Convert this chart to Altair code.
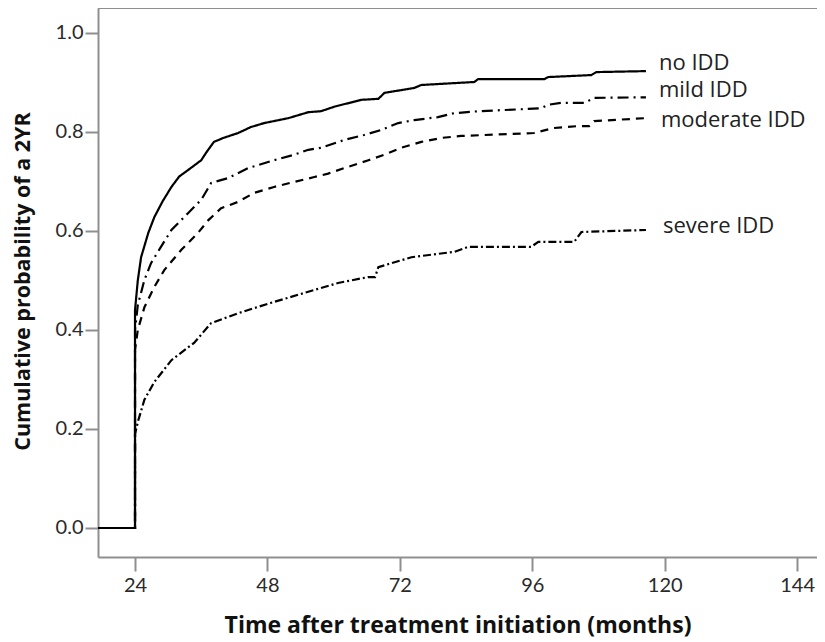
import altair as alt
import pandas as pd

# ---- data ----
no_t = [0, 24, 24, 24.5, 25.1, 26.4, 27.5, 29, 30.6, 32, 33.6, 36, 37, 38.3, 40, 42.7, 45, 47.4, 51.8,
        55.4, 57.7, 60.1, 65, 68.1, 69.2, 74.6, 75.9, 85.5, 86.2, 98.2, 98.9, 106.7, 107.6, 116.6]
no_p = [0, 0, 0.44, 0.50, 0.547, 0.596, 0.628, 0.66, 0.689, 0.71, 0.723, 0.743, 0.76, 0.780, 0.788,
        0.798, 0.81, 0.818, 0.828, 0.840, 0.842, 0.851, 0.865, 0.867, 0.879, 0.889, 0.895, 0.901,
        0.907, 0.907, 0.911, 0.915, 0.921, 0.923]

mild_t = [0, 24, 24, 24.5, 25.7, 26.9, 28.7, 30.6, 33.6, 36, 37.8, 40.9, 44.5, 49.2, 52.8, 55.4, 57.7,
          61.9, 65.5, 68.6, 71.7, 74.6, 78.9, 81.8, 86.2, 94, 97.6, 98.9, 101.2, 105.5, 107.2, 116.6]
mild_p = [0, 0, 0.40, 0.45, 0.501, 0.535, 0.568, 0.602, 0.636, 0.663, 0.697, 0.707, 0.727, 0.743,
          0.754, 0.764, 0.768, 0.784, 0.794, 0.804, 0.818, 0.824, 0.830, 0.838, 0.842, 0.846, 0.848,
          0.855, 0.859, 0.859, 0.869, 0.870]

mod_t = [0, 24, 24, 24.5, 25.7, 27.5, 29.3, 32.4, 35.4, 37.3, 39.6, 42.7, 45.6, 49.2, 52.8, 56.5, 59,
         61.9, 66.3, 69.2, 72.2, 75.9, 79.5, 83.1, 96.3, 99.9, 104.3, 106.3, 107.2, 116.6]
mod_p = [0, 0, 0.36, 0.40, 0.446, 0.487, 0.521, 0.562, 0.596, 0.622, 0.646, 0.659, 0.677, 0.689,
         0.699, 0.709, 0.716, 0.727, 0.743, 0.754, 0.768, 0.780, 0.788, 0.792, 0.798, 0.808, 0.812,
         0.812, 0.822, 0.828]

sev_t = [0, 24, 24, 24.6, 25.7, 27.5, 30.6, 34.7, 37.8, 42.7, 48.7, 54.7, 60.8, 66.3, 67.5, 68.1,
         74.1, 81.9, 84.4, 95.8, 97.1, 103.6, 104.9, 116.6]
sev_p = [0, 0, 0.19, 0.218, 0.259, 0.295, 0.339, 0.374, 0.414, 0.434, 0.455, 0.475, 0.495, 0.507,
         0.507, 0.527, 0.547, 0.558, 0.568, 0.568, 0.578, 0.578, 0.598, 0.602]

groups = ["no IDD", "mild IDD", "moderate IDD", "severe IDD"]
x_ticks = [24, 48, 72, 96, 120, 144]
y_ticks = [0.0, 0.2, 0.4, 0.6, 0.8, 1.0]

series = {
    "no IDD": (no_t, no_p),
    "mild IDD": (mild_t, mild_p),
    "moderate IDD": (mod_t, mod_p),
    "severe IDD": (sev_t, sev_p),
}

# ---- styling ----
W, H = 719, 549
X_DOM = [17.29, 147.6]
Y_DOM = [-0.0586, 1.0505]
AXIS_GRAY = "#8f8f8f"
dashes = {
    "no IDD": [1, 0],
    "mild IDD": [11, 5, 2, 5],
    "moderate IDD": [8, 6],
    "severe IDD": [8, 3, 2, 3],
}
label_offsets = {  # dx, dy in pixels from the curve end
    "no IDD": (13, -1),
    "mild IDD": (13, 0),
    "moderate IDD": (15, 9),
    "severe IDD": (17, 3),
}

xscale = alt.Scale(domain=X_DOM, nice=False, zero=False)
yscale = alt.Scale(domain=Y_DOM, nice=False, zero=False)

xaxis = alt.Axis(values=x_ticks, grid=False, domainColor=AXIS_GRAY, domainWidth=2,
                 tickColor=AXIS_GRAY, tickWidth=2, tickSize=14, labelPadding=4,
                 labelFont="Lato", labelFontSize=20, labelColor="#2a2a2a",
                 title="Time after treatment initiation (months)", titleFont="Open Sans",
                 titleFontSize=23, titleFontWeight="bold", titleColor="#111111",
                 titleY=75, titleBaseline="alphabetic")
yaxis = alt.Axis(values=y_ticks, format=".1f", grid=False, domainColor=AXIS_GRAY, domainWidth=2,
                 tickColor=AXIS_GRAY, tickWidth=2, tickSize=13, labelPadding=2,
                 labelFont="Lato", labelFontSize=20, labelColor="#2a2a2a",
                 title="Cumulative probability of a 2YR", titleFont="Open Sans",
                 titleFontSize=21.5, titleFontWeight="bold", titleColor="#111111",
                 titleAngle=270, titleX=-75, titleY=273, titleBaseline="middle")

X = lambda: alt.X("time:Q", scale=xscale, axis=xaxis)
Y = lambda: alt.Y("prob:Q", scale=yscale, axis=yaxis)

layers = []
for g in groups:
    t, p = series[g]
    df = pd.DataFrame({"time": t, "prob": p, "group": g})
    line = alt.Chart(df).mark_line(
        interpolate="linear", color="black", strokeWidth=2.2,
        strokeDash=dashes[g], clip=True
    ).encode(x=X(), y=Y())
    layers.append(line)
    end = df.tail(1)
    dx, dy = label_offsets[g]
    txt = alt.Chart(end).mark_text(
        align="left", baseline="alphabetic", dx=dx, dy=dy,
        font="Open Sans", fontSize=22, color="#222222"
    ).encode(x=X(), y=Y(), text="group:N")
    layers.append(txt)

top_border = alt.Chart(pd.DataFrame({"a": [0]})).mark_rule(
    color=AXIS_GRAY, strokeWidth=2
).encode(x=alt.value(0), x2=alt.value(W), y=alt.value(0))
layers.append(top_border)

chart = alt.layer(*layers).properties(
    width=W, height=H,
    autosize=alt.AutoSizeParams(type="none"),
    padding={"left": 90, "top": 0, "right": 0, "bottom": 84},
).configure_view(strokeWidth=0).configure(background="white")

chart.save("out.html", embed_options={"renderer": "svg", "actions": False})
